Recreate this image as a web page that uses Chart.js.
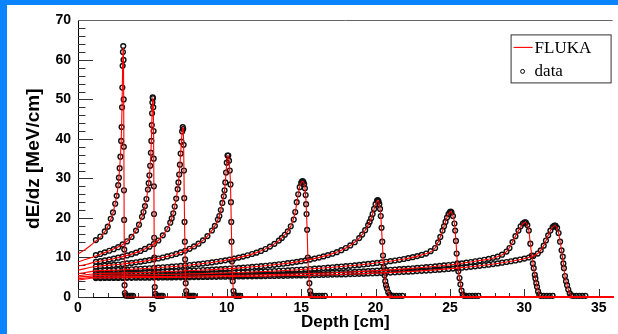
<!DOCTYPE html>
<html>
<head>
<meta charset="utf-8">
<script src="https://cdn.jsdelivr.net/npm/chart.js@4.4.1/dist/chart.umd.min.js"></script>
<style>
  html, body { margin: 0; padding: 0; background: #fff; }
  #frame { width: 611px; height: 329px; border-left: 7px solid #0a84ff; border-top: 5px solid #0a84ff; background: #fff; }
  canvas { display: block; }
</style>
</head>
<body>
<div id="frame"><canvas id="c" width="611" height="329"></canvas></div>
<script>
// Bragg curves: depth [cm], dE/dz [MeV/cm]
const seriesNames = ['FLUKA', 'data'];
const beamRanges = ['3 cm', '5 cm', '7 cm', '10 cm', '15 cm', '20 cm', '25 cm', '30 cm', '32 cm'];

const fluka03 = [[0,10.9],[0.4,11.8],[0.8,12.9],[1.2,14.2],[1.6,15.5],[2.0,17.8],[2.2,19.6],[2.4,22.0],[2.6,25.6],[2.7,28.3],[2.8,32.6],[2.9,39.5],[2.96,48],[3.0,58.5],[3.03,63.2],[3.05,62.5],[3.07,52],[3.09,30],[3.11,12],[3.13,3],[3.16,0.8],[3.22,0],[36,0]];
const fluka05 = [[0,8.9],[0.6,9.6],[1.2,10.4],[2.1,11.7],[3.0,13.3],[3.6,15.2],[4.1,18.3],[4.4,21.5],[4.6,24.8],[4.75,28.8],[4.85,33.2],[4.93,39.5],[4.98,46.5],[5.02,50.5],[5.05,49.5],[5.08,42],[5.1,28],[5.12,15],[5.14,6],[5.17,2],[5.22,0.3],[5.3,0],[36,0]];
const fluka07 = [[0,7.8],[0.6,8.3],[1.2,8.9],[2.4,9.7],[3.6,10.85],[4.8,12.74],[5.4,14.3],[6.0,17.2],[6.3,19.9],[6.5,22.9],[6.7,27.3],[6.8,31.0],[6.9,36.3],[7.0,41.9],[7.04,43.0],[7.07,42.5],[7.1,38.5],[7.14,25],[7.18,14],[7.22,6],[7.27,1.5],[7.32,0.3],[7.4,0],[36,0]];
const fluka10 = [[0,6.8],[1.2,7.7],[3.0,8.35],[5.1,9.52],[6.9,11.28],[8.1,13.49],[8.7,15.41],[9.2,18.0],[9.5,20.5],[9.7,23.8],[9.85,27],[9.95,31.5],[10.05,35.8],[10.12,35.6],[10.2,32],[10.25,28.5],[10.3,19],[10.35,9],[10.4,4],[10.45,1.5],[10.55,0.3],[10.7,0],[36,0]];
const fluka15 = [[0,5.9],[1.2,6.6],[3.0,6.9],[6.0,7.59],[9.0,8.75],[10.8,9.97],[12.0,11.23],[12.9,12.75],[13.5,14.27],[13.9,15.75],[14.3,17.9],[14.6,21.5],[14.8,26.0],[14.9,27.8],[15.0,28.9],[15.1,29.3],[15.2,28.6],[15.3,25.8],[15.36,21],[15.4,17],[15.45,10],[15.5,6],[15.55,3.5],[15.6,1.5],[15.7,0.3],[15.8,0],[36,0]];
const fluka20 = [[0,5.4],[1.2,5.9],[4.2,6.19],[8.1,6.76],[11.1,7.43],[13.5,8.27],[15.3,9.26],[16.8,10.6],[17.7,11.85],[18.3,13.05],[18.9,14.9],[19.3,16.9],[19.6,19.0],[19.8,21.0],[20.0,23.5],[20.15,24.5],[20.25,23.5],[20.35,20.5],[20.45,14],[20.55,7.5],[20.65,4],[20.76,2.2],[20.95,0.6],[21.1,0.1],[21.3,0],[36,0]];
const fluka25 = [[0,5.0],[1.2,5.4],[5.1,5.64],[9.0,5.98],[12.9,6.52],[16.5,7.33],[19.5,8.36],[21.6,9.42],[23.1,10.66],[24.0,12.4],[24.35,15.2],[24.6,17.9],[24.8,20.1],[25.0,21.5],[25.05,21.6],[25.2,20.5],[25.3,18.6],[25.4,14.2],[25.5,8.5],[25.64,4.8],[25.78,1.6],[25.95,0.3],[26.1,0],[36,0]];
const fluka30 = [[0,4.6],[1.2,5.0],[6.0,5.2],[12.0,5.58],[18.0,6.27],[22.2,7.19],[25.2,8.23],[27.0,9.22],[28.2,10.2],[28.8,11.5],[29.2,13.9],[29.6,16.8],[29.9,18.6],[30.05,18.9],[30.2,18.2],[30.3,16.8],[30.4,13.5],[30.5,10.5],[30.63,7.3],[30.74,4.7],[30.85,2.6],[31.0,0.6],[31.15,0],[36,0]];
const fluka32 = [[0,4.3],[1.2,4.8],[6.0,4.95],[12.0,5.25],[18.0,5.75],[22.5,6.48],[25.5,7.3],[27.6,8.18],[29.1,9.05],[30.3,10.0],[30.9,11.0],[31.3,13.0],[31.6,15.6],[31.9,17.7],[32.05,18.1],[32.2,17.5],[32.3,16.2],[32.4,14],[32.5,11.8],[32.62,8.5],[32.73,5.3],[32.87,3.0],[33.05,0.9],[33.2,0.2],[33.35,0],[36,0]];

const data03 = [[1.2,14.4],[1.5,15.3],[1.8,16.6],[2.0,17.8],[2.2,19.8],[2.35,21.4],[2.5,23.6],[2.6,25.6],[2.7,28.3],[2.75,30.2],[2.8,32.6],[2.85,35.5],[2.9,39.5],[2.93,43],[2.96,48],[2.98,53],[3.0,58.5],[3.02,62],[3.04,63.5],[3.06,60],[3.07,50],[3.08,38],[3.09,27],[3.1,19.5],[3.11,12],[3.12,7],[3.13,3],[3.15,1],[3.2,0.4],[3.3,0.3],[3.4,0.3],[3.5,0.3],[3.6,0.3],[3.7,0.3]];
const data05 = [[1.2,10.6],[1.5,10.9],[1.8,11.3],[2.1,11.7],[2.4,12.1],[2.7,12.6],[3.0,13.3],[3.3,14.1],[3.6,15.2],[3.9,16.8],[4.1,18.3],[4.3,20.3],[4.4,21.5],[4.5,23.0],[4.6,24.8],[4.7,27.2],[4.75,28.8],[4.8,30.8],[4.85,33.2],[4.9,36.5],[4.93,39.5],[4.96,43.5],[4.98,46.5],[5.0,49.2],[5.02,50.5],[5.04,50.3],[5.06,48],[5.08,42],[5.09,35],[5.1,28],[5.11,21],[5.12,15],[5.13,10],[5.14,6],[5.16,2.5],[5.2,0.8],[5.3,0.3],[5.4,0.3],[5.5,0.3],[5.6,0.3],[5.7,0.3]];
const data07 = [[1.2,8.9],[1.5,9.07],[1.8,9.26],[2.1,9.47],[2.4,9.69],[2.7,9.94],[3.0,10.21],[3.3,10.51],[3.6,10.85],[3.9,11.23],[4.2,11.66],[4.5,12.16],[4.8,12.74],[5.1,13.43],[5.4,14.3],[5.7,15.6],[6.0,17.2],[6.2,18.8],[6.3,19.9],[6.4,21.2],[6.5,22.9],[6.6,24.9],[6.7,27.3],[6.75,29.0],[6.8,31.0],[6.85,33.5],[6.9,36.3],[6.95,39.3],[7.0,41.9],[7.04,43.0],[7.07,42.5],[7.1,38.5],[7.12,32],[7.14,25],[7.16,19],[7.18,14],[7.2,9.5],[7.22,6],[7.24,3.5],[7.27,1.5],[7.3,0.6],[7.4,0.3],[7.5,0.3],[7.6,0.3],[7.7,0.3],[7.8,0.3]];
const data10 = [[1.2,7.7],[1.5,7.79],[1.8,7.89],[2.1,8.0],[2.4,8.11],[2.7,8.23],[3.0,8.35],[3.3,8.49],[3.6,8.63],[3.9,8.78],[4.2,8.94],[4.5,9.12],[4.8,9.31],[5.1,9.52],[5.4,9.74],[5.7,9.99],[6.0,10.26],[6.3,10.56],[6.6,10.9],[6.9,11.28],[7.2,11.71],[7.5,12.2],[7.8,12.79],[8.1,13.49],[8.4,14.34],[8.7,15.41],[9.0,16.83],[9.2,18.0],[9.4,19.6],[9.5,20.5],[9.6,22.0],[9.7,23.8],[9.8,25.5],[9.85,27.0],[9.9,29.0],[9.95,31.5],[10.0,34.0],[10.05,35.8],[10.1,35.8],[10.15,34.5],[10.2,32.0],[10.25,28.5],[10.28,24.0],[10.3,19.0],[10.32,14.0],[10.35,9.0],[10.4,4.0],[10.45,1.5],[10.5,0.6],[10.6,0.3],[10.7,0.3],[10.8,0.3],[10.9,0.3]];
const data15 = [[1.2,6.6],[1.5,6.65],[1.8,6.7],[2.1,6.75],[2.4,6.8],[2.7,6.85],[3.0,6.9],[3.3,6.96],[3.6,7.02],[3.9,7.08],[4.2,7.14],[4.5,7.21],[4.8,7.28],[5.1,7.35],[5.4,7.43],[5.7,7.51],[6.0,7.59],[6.3,7.68],[6.6,7.78],[6.9,7.88],[7.2,7.98],[7.5,8.09],[7.8,8.21],[8.1,8.33],[8.4,8.47],[8.7,8.61],[9.0,8.75],[9.3,8.92],[9.6,9.1],[9.9,9.28],[10.2,9.49],[10.5,9.72],[10.8,9.97],[11.1,10.23],[11.4,10.55],[11.7,10.88],[12.0,11.23],[12.3,11.65],[12.6,12.15],[12.9,12.75],[13.2,13.45],[13.5,14.27],[13.7,14.95],[13.9,15.75],[14.1,16.6],[14.3,17.9],[14.5,19.6],[14.6,21.5],[14.7,24.0],[14.8,26.0],[14.9,27.8],[15.0,28.9],[15.05,29.2],[15.1,29.3],[15.15,29.1],[15.2,28.6],[15.25,27.5],[15.3,25.8],[15.33,23.5],[15.36,21.0],[15.4,17.0],[15.45,10.0],[15.5,6.0],[15.55,3.5],[15.6,1.5],[15.65,0.6],[15.7,0.3],[15.8,0.3],[16.0,0.3],[16.2,0.3],[16.4,0.3],[16.6,0.3]];
const data20 = [[1.2,5.9],[1.5,5.92],[1.8,5.95],[2.1,5.98],[2.4,6.0],[2.7,6.03],[3.0,6.07],[3.3,6.1],[3.6,6.13],[3.9,6.16],[4.2,6.19],[4.5,6.23],[4.8,6.27],[5.1,6.3],[5.4,6.34],[5.7,6.39],[6.0,6.43],[6.3,6.47],[6.6,6.52],[6.9,6.56],[7.2,6.62],[7.5,6.66],[7.8,6.71],[8.1,6.76],[8.4,6.82],[8.7,6.87],[9.0,6.93],[9.3,6.99],[9.6,7.06],[9.9,7.13],[10.2,7.2],[10.5,7.27],[10.8,7.35],[11.1,7.43],[11.4,7.52],[11.7,7.61],[12.0,7.7],[12.3,7.8],[12.6,7.91],[12.9,8.02],[13.2,8.14],[13.5,8.27],[13.8,8.41],[14.1,8.55],[14.4,8.72],[14.7,8.9],[15.0,9.06],[15.3,9.26],[15.6,9.48],[15.9,9.72],[16.2,9.98],[16.5,10.28],[16.8,10.6],[17.1,10.95],[17.4,11.35],[17.7,11.85],[18.0,12.4],[18.3,13.05],[18.6,13.85],[18.9,14.9],[19.1,15.8],[19.3,16.9],[19.5,18.2],[19.6,19.0],[19.7,19.9],[19.8,21.0],[19.9,22.3],[20.0,23.5],[20.1,24.4],[20.15,24.5],[20.2,24.2],[20.25,23.5],[20.3,22.3],[20.35,20.5],[20.4,17.5],[20.45,14.0],[20.5,10.5],[20.55,7.5],[20.6,5.5],[20.65,4.0],[20.7,3.0],[20.76,2.2],[20.85,1.2],[20.95,0.6],[21.05,0.3],[21.2,0.3],[21.4,0.3],[21.6,0.3],[21.8,0.3]];
const data25 = [[1.2,5.4],[1.5,5.41],[1.8,5.42],[2.1,5.44],[2.4,5.46],[2.7,5.48],[3.0,5.5],[3.3,5.52],[3.6,5.54],[3.9,5.56],[4.2,5.58],[4.5,5.6],[4.8,5.62],[5.1,5.64],[5.4,5.66],[5.7,5.69],[6.0,5.71],[6.3,5.73],[6.6,5.76],[6.9,5.78],[7.2,5.8],[7.5,5.83],[7.8,5.86],[8.1,5.89],[8.4,5.92],[8.7,5.95],[9.0,5.98],[9.3,6.01],[9.6,6.05],[9.9,6.08],[10.2,6.12],[10.5,6.16],[10.8,6.2],[11.1,6.24],[11.4,6.28],[11.7,6.32],[12.0,6.37],[12.3,6.42],[12.6,6.47],[12.9,6.52],[13.2,6.57],[13.5,6.63],[13.8,6.69],[14.1,6.75],[14.4,6.82],[14.7,6.88],[15.0,6.95],[15.3,7.02],[15.6,7.09],[15.9,7.17],[16.2,7.25],[16.5,7.33],[16.8,7.42],[17.1,7.51],[17.4,7.6],[17.7,7.7],[18.0,7.8],[18.3,7.9],[18.6,8.01],[18.9,8.12],[19.2,8.24],[19.5,8.36],[19.8,8.49],[20.1,8.62],[20.4,8.76],[20.7,8.91],[21.0,9.07],[21.3,9.24],[21.6,9.42],[21.9,9.62],[22.2,9.84],[22.5,10.08],[22.8,10.35],[23.1,10.66],[23.4,11.0],[23.7,11.6],[24.0,12.4],[24.2,13.8],[24.35,15.2],[24.5,16.8],[24.6,17.9],[24.7,19.0],[24.8,20.1],[24.9,21.0],[25.0,21.5],[25.05,21.6],[25.1,21.4],[25.2,20.5],[25.3,18.6],[25.35,16.8],[25.4,14.2],[25.45,11.0],[25.5,8.5],[25.56,6.5],[25.64,4.8],[25.7,3.2],[25.78,1.6],[25.86,0.6],[25.95,0.3],[26.1,0.3],[26.3,0.3],[26.5,0.3],[26.7,0.3],[26.9,0.3]];
const data30 = [[1.2,5.0],[1.5,5.0],[1.8,5.01],[2.1,5.02],[2.4,5.03],[2.7,5.04],[3.0,5.06],[3.3,5.07],[3.6,5.08],[3.9,5.1],[4.2,5.11],[4.5,5.12],[4.8,5.14],[5.1,5.15],[5.4,5.17],[5.7,5.18],[6.0,5.2],[6.3,5.21],[6.6,5.23],[6.9,5.25],[7.2,5.26],[7.5,5.28],[7.8,5.3],[8.1,5.31],[8.4,5.33],[8.7,5.35],[9.0,5.37],[9.3,5.39],[9.6,5.41],[9.9,5.43],[10.2,5.45],[10.5,5.47],[10.8,5.49],[11.1,5.51],[11.4,5.53],[11.7,5.56],[12.0,5.58],[12.3,5.61],[12.6,5.64],[12.9,5.66],[13.2,5.69],[13.5,5.72],[13.8,5.75],[14.1,5.78],[14.4,5.81],[14.7,5.84],[15.0,5.87],[15.3,5.91],[15.6,5.95],[15.9,5.99],[16.2,6.03],[16.5,6.07],[16.8,6.11],[17.1,6.15],[17.4,6.19],[17.7,6.23],[18.0,6.27],[18.3,6.32],[18.6,6.37],[18.9,6.42],[19.2,6.48],[19.5,6.54],[19.8,6.6],[20.1,6.67],[20.4,6.74],[20.7,6.81],[21.0,6.88],[21.3,6.95],[21.6,7.03],[21.9,7.11],[22.2,7.19],[22.5,7.27],[22.8,7.36],[23.1,7.45],[23.4,7.55],[23.7,7.65],[24.0,7.75],[24.3,7.86],[24.6,7.98],[24.9,8.1],[25.2,8.23],[25.5,8.37],[25.8,8.52],[26.1,8.68],[26.4,8.85],[26.7,9.03],[27.0,9.22],[27.3,9.43],[27.6,9.66],[27.9,9.92],[28.2,10.2],[28.5,10.7],[28.8,11.5],[29.0,12.4],[29.2,13.9],[29.4,15.4],[29.6,16.8],[29.75,17.9],[29.9,18.6],[30.0,18.8],[30.05,18.9],[30.1,18.8],[30.2,18.2],[30.3,16.8],[30.4,13.5],[30.5,10.5],[30.57,8.5],[30.63,7.3],[30.7,5.6],[30.74,4.7],[30.8,3.5],[30.85,2.6],[30.92,1.4],[31.0,0.6],[31.1,0.3],[31.3,0.3],[31.5,0.3],[31.7,0.3],[31.9,0.3]];
const data32 = [[1.2,4.8],[1.5,4.8],[1.8,4.81],[2.1,4.82],[2.4,4.82],[2.7,4.83],[3.0,4.84],[3.3,4.85],[3.6,4.86],[3.9,4.87],[4.2,4.88],[4.5,4.89],[4.8,4.9],[5.1,4.91],[5.4,4.92],[5.7,4.94],[6.0,4.95],[6.3,4.96],[6.6,4.98],[6.9,4.99],[7.2,5.01],[7.5,5.02],[7.8,5.04],[8.1,5.05],[8.4,5.07],[8.7,5.08],[9.0,5.1],[9.3,5.11],[9.6,5.13],[9.9,5.14],[10.2,5.16],[10.5,5.17],[10.8,5.19],[11.1,5.21],[11.4,5.22],[11.7,5.24],[12.0,5.25],[12.3,5.27],[12.6,5.29],[12.9,5.31],[13.2,5.33],[13.5,5.35],[13.8,5.37],[14.1,5.39],[14.4,5.42],[14.7,5.44],[15.0,5.47],[15.3,5.49],[15.6,5.52],[15.9,5.55],[16.2,5.58],[16.5,5.61],[16.8,5.64],[17.1,5.67],[17.4,5.7],[17.7,5.72],[18.0,5.75],[18.3,5.79],[18.6,5.83],[18.9,5.87],[19.2,5.91],[19.5,5.95],[19.8,5.99],[20.1,6.04],[20.4,6.09],[20.7,6.14],[21.0,6.19],[21.3,6.24],[21.6,6.3],[21.9,6.36],[22.2,6.42],[22.5,6.48],[22.8,6.55],[23.1,6.62],[23.4,6.69],[23.7,6.76],[24.0,6.84],[24.3,6.92],[24.6,7.01],[24.9,7.1],[25.2,7.2],[25.5,7.3],[25.8,7.41],[26.1,7.52],[26.4,7.64],[26.7,7.76],[27.0,7.89],[27.3,8.03],[27.6,8.18],[27.9,8.34],[28.2,8.5],[28.5,8.68],[28.8,8.86],[29.1,9.05],[29.4,9.25],[29.7,9.48],[30.0,9.72],[30.3,10.0],[30.6,10.4],[30.9,11.0],[31.1,11.8],[31.3,13.0],[31.45,14.3],[31.6,15.6],[31.75,16.8],[31.9,17.7],[32.0,18.0],[32.05,18.1],[32.1,18.0],[32.2,17.5],[32.3,16.2],[32.4,14.0],[32.5,11.8],[32.58,10.2],[32.62,8.5],[32.66,7.3],[32.73,5.3],[32.8,4.0],[32.87,3.0],[32.95,1.9],[33.05,0.9],[33.15,0.4],[33.3,0.3],[33.5,0.3],[33.7,0.3],[33.9,0.3],[34.1,0.3]];

const flukaCurves = [fluka03, fluka05, fluka07, fluka10, fluka15, fluka20, fluka25, fluka30, fluka32];
const dataCurves = [data03, data05, data07, data10, data15, data20, data25, data30, data32];

const toXY = arr => arr.map(p => ({ x: p[0], y: p[1] }));

const datasets = [];
beamRanges.forEach((r, i) => {
  datasets.push({
    label: seriesNames[0] + ' ' + r,
    data: toXY(flukaCurves[i]),
    showLine: true,
    borderColor: '#ff0000',
    borderWidth: 1.1,
    pointRadius: 0,
    cubicInterpolationMode: 'monotone',
    clip: false,
    order: 0
  });
  datasets.push({
    label: seriesNames[1] + ' ' + r,
    data: toXY(dataCurves[i]),
    showLine: false,
    pointStyle: 'circle',
    pointRadius: 2.4,
    pointBorderWidth: 1.4,
    pointBorderColor: '#111',
    pointBackgroundColor: 'rgba(0,0,0,0)',
    clip: false,
    order: 1
  });
});

const tickFont = { family: '"Liberation Sans", Arial, sans-serif', size: 14, weight: 'bold' };

// inward major/minor tick marks and the upper frame line
const innerTicks = {
  id: 'innerTicks',
  beforeDatasetsDraw(chart) {
    const { ctx, chartArea: a, scales: { x, y } } = chart;
    ctx.save();
    ctx.strokeStyle = '#333';
    ctx.lineWidth = 1;
    ctx.beginPath();
    for (let v = 0; v <= 70; v += 2) {
      const py = Math.round(y.getPixelForValue(v)) + 0.5;
      const len = v % 10 === 0 ? 15 : 7.5;
      ctx.moveTo(a.left, py);
      ctx.lineTo(a.left + len, py);
    }
    for (let v = 0; v <= 35; v += 1) {
      const px = Math.round(x.getPixelForValue(v)) + 0.5;
      const len = v % 5 === 0 ? 8 : 4;
      ctx.moveTo(px, a.bottom);
      ctx.lineTo(px, a.bottom - len);
    }
    ctx.stroke();
    ctx.strokeStyle = '#666';
    ctx.beginPath();
    ctx.moveTo(a.left, Math.round(a.top) + 0.5);
    ctx.lineTo(a.right, Math.round(a.top) + 0.5);
    ctx.stroke();
    ctx.restore();
  }
};

// boxed legend in the upper right corner of the plot
const boxLegend = {
  id: 'boxLegend',
  afterDraw(chart) {
    const { ctx, chartArea: a } = chart;
    const left = a.right - 102, top = a.top + 14, w = 101, h = 49;
    ctx.save();
    ctx.fillStyle = '#fff';
    ctx.fillRect(left, top, w, h);
    ctx.strokeStyle = '#333';
    ctx.lineWidth = 1;
    ctx.strokeRect(left + 0.5, top + 0.5, w - 1, h - 1);
    ctx.strokeStyle = '#ff0000';
    ctx.lineWidth = 1.1;
    ctx.beginPath();
    ctx.moveTo(left + 3, top + 13);
    ctx.lineTo(left + 22, top + 13);
    ctx.stroke();
    ctx.strokeStyle = '#000';
    ctx.lineWidth = 1;
    ctx.beginPath();
    ctx.arc(left + 12, top + 37, 2, 0, Math.PI * 2);
    ctx.stroke();
    ctx.fillStyle = '#000';
    ctx.font = '17px "Liberation Serif", "Times New Roman", serif';
    ctx.textBaseline = 'alphabetic';
    ctx.fillText(seriesNames[0], left + 24, top + 19);
    ctx.fillText(seriesNames[1], left + 24, top + 42);
    ctx.restore();
  }
};

new Chart(document.getElementById('c'), {
  type: 'scatter',
  data: { datasets },
  plugins: [innerTicks, boxLegend],
  options: {
    responsive: false,
    animation: false,
    events: [],
    layout: { padding: { top: 15, right: 0, left: 0, bottom: 0 } },
    plugins: { legend: { display: false }, tooltip: { enabled: false } },
    scales: {
      x: {
        type: 'linear',
        min: 0,
        max: 35.93,
        afterFit(s) { s.height = 37; },
        grid: { display: false, drawTicks: false },
        border: { display: true, color: '#000', width: 1 },
        ticks: { stepSize: 5, includeBounds: false, padding: 3, color: '#000', font: tickFont, maxRotation: 0, autoSkip: false },
        title: {
          display: true, text: 'Depth [cm]', color: '#000',
          font: { family: '"Liberation Sans", Arial, sans-serif', size: 17, weight: 'bold', lineHeight: 1.2 },
          padding: { top: 0, bottom: 1 }
        }
      },
      y: {
        min: 0,
        max: 70,
        afterFit(s) { s.width = 71; },
        grid: { display: false, drawTicks: false },
        border: { display: true, color: '#000', width: 1 },
        ticks: { stepSize: 10, padding: 7, color: '#000', font: tickFont },
        title: {
          display: true, text: 'dE/dz [MeV/cm]', color: '#000',
          font: { family: '"Liberation Sans", Arial, sans-serif', size: 19, weight: 'bold', lineHeight: 1.2 },
          padding: { top: 15, bottom: 0 }
        }
      }
    }
  }
});
</script>
</body>
</html>
